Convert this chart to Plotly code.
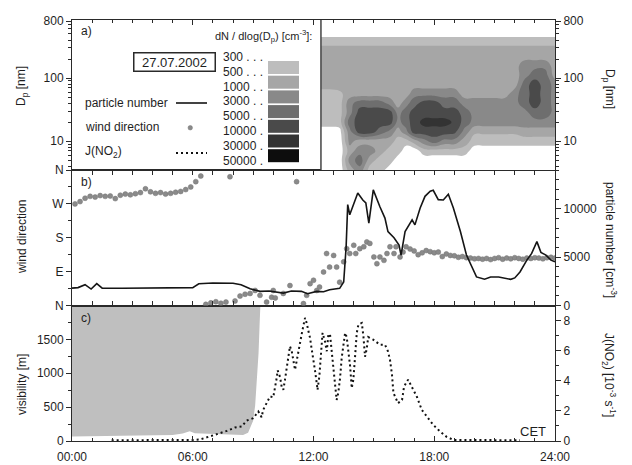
import numpy as np
import plotly.graph_objects as go

# ---------------- data ----------------
# panel a: particle size distribution dN/dlog(Dp) [cm^-3]
dist_time_h = [12.37, 12.8, 13.3, 13.8, 14.3, 14.8, 15.3, 15.8, 16.2, 16.6, 17.0, 17.5,
               18.0, 18.5, 19.0, 19.5, 20.0, 20.5, 21.0, 21.5, 22.0, 22.5, 23.0, 23.5, 24.0]
dist_dp_nm = [3.5, 5, 7, 10, 14, 20, 28, 40, 56, 80, 110, 160, 220, 300, 400, 560, 800]
# one profile (bottom Dp -> top Dp) per time
dist_profiles = [
    [150, 150, 150, 150, 150, 400, 400, 400, 400, 700, 700, 700, 700, 600, 350, 150, 150],
    [150, 150, 150, 150, 150, 400, 400, 400, 400, 700, 700, 700, 700, 600, 350, 150, 150],
    [150, 150, 150, 150, 200, 400, 400, 400, 450, 700, 700, 700, 700, 600, 350, 150, 150],
    [700, 1500, 700, 1500, 2000, 4000, 2000, 2000, 700, 700, 700, 700, 700, 600, 350, 150, 150],
    [2000, 4000, 2000, 700, 7000, 7000, 7000, 4000, 700, 700, 700, 700, 700, 600, 350, 150, 150],
    [400, 700, 2000, 700, 7000, 7000, 7000, 4000, 700, 700, 700, 700, 700, 600, 350, 150, 150],
    [400, 400, 700, 700, 4000, 7000, 7000, 4000, 700, 700, 700, 700, 700, 600, 350, 150, 150],
    [150, 400, 400, 700, 2000, 7000, 7000, 2000, 700, 700, 700, 700, 700, 600, 350, 150, 150],
    [150, 150, 400, 400, 700, 2000, 2000, 700, 700, 700, 700, 700, 700, 600, 350, 150, 150],
    [150, 150, 150, 400, 2000, 4000, 4000, 2000, 700, 700, 700, 700, 700, 600, 350, 150, 150],
    [150, 150, 150, 700, 7000, 7000, 7000, 4000, 2000, 700, 700, 700, 700, 600, 350, 150, 150],
    [150, 150, 400, 2000, 7000, 15000, 7000, 7000, 2000, 700, 700, 700, 700, 600, 350, 150, 150],
    [150, 150, 400, 4000, 7000, 15000, 7000, 7000, 2000, 700, 700, 700, 700, 600, 350, 150, 150],
    [150, 150, 400, 2000, 7000, 15000, 7000, 4000, 2000, 700, 700, 700, 700, 600, 350, 150, 150],
    [150, 150, 400, 2000, 6000, 9000, 7000, 4000, 2000, 700, 700, 700, 700, 600, 350, 150, 150],
    [150, 150, 400, 700, 2000, 4000, 4000, 2000, 700, 700, 700, 700, 700, 600, 350, 150, 150],
    [150, 150, 150, 400, 550, 2000, 2000, 2000, 700, 700, 700, 700, 700, 600, 350, 150, 150],
    [150, 150, 150, 400, 550, 2000, 2000, 2000, 700, 700, 700, 700, 700, 600, 350, 150, 150],
    [150, 150, 150, 400, 550, 2000, 2000, 2000, 700, 700, 700, 700, 700, 600, 350, 150, 150],
    [150, 150, 150, 400, 550, 2000, 2000, 2000, 700, 700, 700, 700, 700, 600, 350, 150, 150],
    [150, 150, 150, 400, 550, 2000, 2000, 2000, 2000, 700, 700, 700, 700, 600, 350, 150, 150],
    [150, 150, 150, 400, 700, 2000, 2000, 4000, 4000, 4000, 2000, 2000, 700, 600, 350, 150, 150],
    [150, 150, 150, 400, 700, 2000, 4000, 7000, 7000, 7000, 4000, 2000, 700, 600, 350, 150, 150],
    [150, 150, 150, 400, 700, 2000, 4000, 4000, 4000, 4000, 4000, 2000, 700, 600, 350, 150, 150],
    [150, 150, 150, 400, 700, 2000, 2000, 2000, 2000, 2000, 700, 700, 700, 600, 350, 150, 150],
]
dist_levels = [300, 500, 1000, 3000, 5000, 10000, 30000, 50000]
level_colors = ["#ffffff", "#bdbdbd", "#a6a6a6", "#898989", "#6e6e6e",
                "#4a4a4a", "#333333", "#0d0d0d", "#000000"]

# panel b: wind direction [deg] and particle number [cm^-3]
wind_time_h = [0.15, 0.40, 0.65, 0.90, 1.15, 1.40, 1.65, 1.90, 2.15, 2.40, 2.65, 2.90, 3.15,
               3.40, 3.65, 3.90, 4.15, 4.40, 4.65, 4.90, 5.15, 5.40, 5.65, 5.90, 6.15, 6.40,
               6.65, 6.90, 7.15, 7.40, 7.65, 7.85, 8.10, 8.35, 8.60, 8.85, 9.10, 9.34, 9.67,
               9.92, 10.0, 10.1, 10.5, 10.83, 11.16, 11.5, 11.66, 11.83, 12.0, 12.16, 12.3,
               12.5, 12.65, 12.8, 13.0, 13.15, 13.3, 13.5, 13.65, 13.8, 14.0, 14.1, 14.3,
               14.5, 14.65, 14.8, 15.0, 15.15, 15.3, 15.5, 15.65, 15.8, 16.0, 16.1, 16.3,
               16.45, 16.6, 16.8, 17.0, 17.2, 17.4, 17.6, 17.8, 18.0, 18.2, 18.4, 18.6,
               18.8, 19.0, 19.2, 19.4, 19.6, 19.8, 20.0, 20.2, 20.4, 20.6, 20.8, 21.0,
               21.2, 21.4, 21.6, 21.8, 22.0, 22.2, 22.4, 22.6, 22.8, 23.0, 23.2, 23.4,
               23.6, 23.8, 24.0]
wind_dir_deg = [270, 276, 285, 290, 288, 292, 290, 291, 284, 293, 296, 294, 297,
                300, 310, 302, 298, 300, 296, 298, 301, 303, 308, 315, 329, 344,
                3, 7, 10, 6, 9, 342, 12, 25, 30, 32, 40, 27, 9,
                22, 40, 20, 32, 53, 329, 5, 27, 58, 67, 40, 49,
                89, 138, 102, 133, 102, 62, 116, 151, 138, 160, 138, 151,
                156, 169, 165, 129, 111, 129, 120, 138, 156, 138, 156, 129,
                142, 156, 150, 145, 135, 140, 146, 143, 140, 142, 130, 137,
                133, 132, 128, 130, 127, 126, 124, 125, 123, 125, 122, 125,
                127, 123, 126, 124, 127, 125, 123, 126, 125, 127, 126, 124,
                127, 128, 126]

pn_time_h = [0.0, 0.3, 0.65, 0.95, 1.23, 1.5, 2.5, 3.5, 4.5, 5.5, 6.0, 6.3, 7.0, 8.0, 8.4,
             8.85, 9.34, 9.8, 10.5, 10.9, 11.4, 11.7, 12.16, 12.5, 12.8, 13.3, 13.5, 13.62,
             13.7, 13.8, 14.05, 14.2, 14.45, 14.6, 14.75, 14.97, 15.3, 15.55, 15.7, 16.0,
             16.25, 16.35, 16.55, 16.7, 16.9, 17.04, 17.3, 17.54, 17.8, 17.95, 18.2, 18.45,
             18.7, 18.95, 19.3, 19.6, 19.86, 20.1, 20.5, 20.8, 21.2, 21.5, 21.8, 22.0,
             22.26, 22.6, 22.84, 23.1, 23.3, 23.55, 23.8, 24.0]
pn_cm3 = [1800, 1850, 2150, 1700, 2260, 1800, 1780, 1800, 1790, 1800, 1850, 2250, 2330, 2300, 2150,
          1735, 1460, 1500, 1285, 1500, 1460, 1215, 1460, 1420, 1630, 1770, 2430, 6000,
          10420, 9380, 10760, 11630, 10900, 10590, 8500, 11950, 10200, 9030, 7640, 7000,
          6250, 5210, 7640, 8160, 8850, 8330, 10070, 11280, 11800, 11900, 10940, 10900,
          11500, 10070, 7640, 5210, 3990, 2950, 2710, 2950, 2950, 2800, 2700, 2850,
          3470, 4690, 5380, 6600, 5490, 5210, 4690, 4510]

# panel c: visibility [m] (fog period) and J(NO2) [1e-3 s^-1]
vis_time_h = [0.0, 1.0, 2.0, 3.0, 4.0, 5.0, 5.5, 5.85, 6.1, 6.5, 7.0, 7.5, 8.0, 8.5, 8.75,
              9.0, 9.1, 9.2, 9.27, 9.32, 9.36]
vis_m = [65, 70, 75, 85, 88, 90, 110, 145, 115, 110, 110, 100, 90, 90, 120,
         300, 520, 900, 1300, 1700, 2000]

jno2_time_h = [1.97, 3.0, 4.0, 5.0, 6.0, 6.36, 6.7, 7.0, 7.35, 7.7, 8.1, 8.43, 8.68, 9.0, 9.26,
               9.42, 9.5, 9.67, 9.84, 10.0, 10.09, 10.17, 10.22, 10.34, 10.42, 10.5, 10.57,
               10.67, 10.75, 10.83, 10.92, 11.0, 11.08, 11.16, 11.25, 11.33, 11.44, 11.58,
               11.66, 11.75, 11.83, 11.9, 12.0, 12.07, 12.16, 12.2, 12.29, 12.35, 12.4, 12.45,
               12.57, 12.66, 12.74, 12.82, 12.98, 13.07, 13.15, 13.23, 13.32, 13.4, 13.48,
               13.57, 13.65, 13.73, 13.82, 13.9, 13.98, 14.06, 14.15, 14.23, 14.4, 14.48,
               14.56, 14.64, 14.72, 14.97, 15.3, 15.55, 15.7, 15.8, 15.9, 15.97, 16.2, 16.4,
               16.5, 16.7, 16.88, 17.13, 17.38, 17.7, 17.95, 18.3, 18.6, 18.95, 20.0, 21.0,
               22.26]
jno2 = [0.05, 0.05, 0.05, 0.05, 0.07, 0.1, 0.25, 0.4, 0.55, 0.67, 0.9, 0.96, 1.36, 1.51, 1.96,
        1.58, 2.07, 2.51, 2.96, 2.9, 3.51, 4.18, 4.69, 4.24, 3.58, 3.4, 3.96,
        4.84, 5.51, 6.29, 5.96, 5.18, 4.73, 5.29, 5.96, 6.62, 7.29, 8.18,
        7.84, 7.29, 6.84, 6.18, 5.4, 4.73, 3.84, 3.4, 4.29, 5.4, 6.51, 7.18,
        6.62, 5.96, 7.07, 7.1, 4.96, 3.96, 2.73, 3.18, 4.18, 5.51, 6.51,
        7.18, 6.9, 6.07, 4.96, 3.51, 4.07, 5.51, 7.18, 7.73, 7.84, 6.96,
        5.6, 6.1, 6.9, 6.73, 6.4, 6.4, 5.96, 5.4, 4.4, 3.2, 2.51, 2.73,
        3.62, 4.07, 3.62, 2.96, 2.07, 1.51, 1.07, 0.62, 0.29, 0.07, 0.05, 0.05,
        0.05]

x_tick_vals = [0, 6, 12, 18, 24]
x_tick_text = ["00:00", "06:00", "12:00", "18:00", "24:00"]
wind_tick_vals = [0, 90, 180, 270, 360]
wind_tick_text = ["N", "E", "S", "W", "N"]
pn_tick_vals = [0, 5000, 10000]
vis_tick_vals = [0, 500, 1000, 1500]
j_tick_vals = [0, 2, 4, 6, 8]
dp_tick_vals = [10, 100, 800]

# ---------------- layout helpers ----------------
FONT = "Liberation Sans, Arial, sans-serif"
TXT = "#1e1e1e"
AX = "#2a2a2a"
W, H = 632, 465
PL, PR, PT, PB = 72, 555, 20, 441


def px(x):
    return (x - PL) / (PR - PL)


def py(y):
    return (PB - y) / (PB - PT)


dom_c = [0, py(305.5)]
dom_b = [py(305.5), py(170)]
dom_a = [py(170), 1]

VIS_TOP = 2000
J_TOP = 9
PN_TOP = 14000
DP_RANGE = [np.log10(3.5), np.log10(830)]

fig = go.Figure()

# contour (panel a)
z = np.array(dist_profiles, float).T
edges = [100] + dist_levels + [100000]
zi = np.interp(np.log10(z), np.log10(edges), np.arange(len(edges)))
cs = [[k / 8, c] for k, c in enumerate(level_colors)]
fig.add_trace(go.Contour(
    x=dist_time_h, y=dist_dp_nm, z=zi, xaxis="x3", yaxis="y5",
    contours=dict(start=1, end=8, size=1, coloring="fill", showlines=False),
    line=dict(width=0, smoothing=1.3), colorscale=cs, showscale=False,
    hoverinfo="skip"))
# keeps the right-hand Dp axis drawn
fig.add_trace(go.Scatter(x=[dist_time_h[-1]], y=[dist_dp_nm[0]], xaxis="x3", yaxis="y6",
                         mode="markers", marker=dict(opacity=0), hoverinfo="skip",
                         showlegend=False))

# visibility: grey area above the visibility curve (fog)
poly_x = list(vis_time_h) + list(vis_time_h[::-1])
poly_y = list(vis_m) + [VIS_TOP] * len(vis_time_h)
fig.add_trace(go.Scatter(x=poly_x, y=poly_y, xaxis="x", yaxis="y", mode="lines",
                         fill="toself", fillcolor="#bfbfbf", line=dict(width=0),
                         hoverinfo="skip", showlegend=False))
# J(NO2)
fig.add_trace(go.Scatter(x=jno2_time_h, y=jno2, xaxis="x", yaxis="y2", mode="lines",
                         line=dict(color="#111111", width=2, dash="2px,3px"),
                         showlegend=False, hoverinfo="skip"))
# wind direction
fig.add_trace(go.Scatter(x=wind_time_h, y=wind_dir_deg, xaxis="x2", yaxis="y3",
                         mode="markers",
                         marker=dict(size=5, color="#8a8a8a",
                                     line=dict(width=0.5, color="#777777")),
                         showlegend=False, hoverinfo="skip"))
# particle number
fig.add_trace(go.Scatter(x=pn_time_h, y=pn_cm3, xaxis="x2", yaxis="y4", mode="lines",
                         line=dict(color="#151515", width=1.6),
                         showlegend=False, hoverinfo="skip"))

tickfont = dict(family=FONT, size=12, color=TXT)
base = dict(showline=True, linecolor=AX, linewidth=1, showgrid=False, zeroline=False,
            tickcolor=AX, tickfont=tickfont, tickwidth=1, automargin=False)
xbase = dict(base, range=[0, 24], tickvals=x_tick_vals, ticklen=5,
             minor=dict(tickvals=list(range(25)), ticks="inside", ticklen=3,
                        tickcolor=AX, showgrid=False))


def minor_y(vals):
    return dict(tickvals=vals, ticks="outside", ticklen=3, tickcolor=AX, showgrid=False)


log_minor = [4, 5, 6, 7, 8, 9, 20, 30, 40, 50, 60, 70, 80, 90, 200, 300, 400, 500, 600, 700]

fig.update_layout(
    width=W, height=H, margin=dict(l=PL, r=W - PR, t=PT, b=H - PB, autoexpand=False),
    paper_bgcolor="white", plot_bgcolor="white", showlegend=False,
    font=dict(family=FONT, size=12, color=TXT),
    xaxis=dict(xbase, anchor="y", domain=[0, 1], ticks="inside", ticktext=x_tick_text,
               showticklabels=True, ticklabelstandoff=5, mirror=True),
    xaxis2=dict(xbase, anchor="y3", domain=[0, 1], matches="x", ticks="inside",
                showticklabels=False, mirror="allticks"),
    xaxis3=dict(xbase, anchor="y5", domain=[0, 1], matches="x", ticks="inside", side="top",
                showticklabels=False, mirror=True),
    yaxis=dict(base, domain=dom_c, anchor="x", range=[0, VIS_TOP],
               tickvals=vis_tick_vals, ticktext=[str(v) for v in vis_tick_vals],
               ticks="outside", ticklen=5, minor=minor_y([250, 750, 1250, 1750])),
    yaxis2=dict(base, overlaying="y", side="right", anchor="x", range=[0, J_TOP],
                tickvals=j_tick_vals, ticktext=[str(v) for v in j_tick_vals],
                ticks="outside", ticklen=5, minor=minor_y([1, 3, 5, 7, 9])),
    yaxis3=dict(base, domain=dom_b, anchor="x2", range=[0, 360],
                tickvals=wind_tick_vals, ticktext=wind_tick_text, ticks="outside", ticklen=5,
                minor=minor_y([45, 135, 225, 315])),
    yaxis4=dict(base, overlaying="y3", side="right", anchor="x2", range=[0, PN_TOP],
                tickvals=pn_tick_vals, ticktext=[str(v) for v in pn_tick_vals],
                ticks="outside", ticklen=5,
                minor=minor_y([v for v in range(1000, 14001, 1000) if v % 5000])),
    yaxis5=dict(base, domain=dom_a, anchor="x3", type="log", range=DP_RANGE,
                tickvals=dp_tick_vals, ticktext=[str(v) for v in dp_tick_vals],
                ticks="outside", ticklen=5, minor=minor_y(log_minor)),
    yaxis6=dict(base, overlaying="y5", side="right", anchor="x3", type="log",
                range=DP_RANGE, tickvals=dp_tick_vals, ticktext=[str(v) for v in dp_tick_vals],
                ticks="outside", ticklen=5, minor=minor_y(log_minor)),
)

ann = []


def text(x, y, s, size=12, xanchor="center", yanchor="middle", angle=0, **kw):
    ann.append(dict(x=px(x), y=py(y), xref="paper", yref="paper", text=s,
                    showarrow=False, xanchor=xanchor, yanchor=yanchor, textangle=angle,
                    font=dict(family=FONT, size=size, color=TXT), **kw))


# panel letters
text(79, 31, "a)", 12, xanchor="left")
text(79, 182, "b)", 12, xanchor="left")
text(79, 318, "c)", 12, xanchor="left")
# axis titles
text(22, 86, "D<sub>p</sub> [nm]", 12, angle=-90)
text(22, 237, "wind direction", 12, angle=-90)
text(22, 385, "visibility [m]", 12, angle=-90)
text(609, 89, "D<sub>p</sub> [nm]", 12, angle=90)
text(611, 240, "particle number [cm<sup>-3</sup>]", 12, angle=90)
text(609, 375, "J(NO<sub>2</sub>) [10<sup>-3</sup> s<sup>-1</sup>]", 12, angle=90)
# CET
text(548, 431, "CET", 13, xanchor="right")
# date box
ann.append(dict(x=px(133), y=py(52), xref="paper", yref="paper", text="27.07.2002",
                showarrow=False, font=dict(family=FONT, size=13, color=TXT),
                bordercolor=AX, borderwidth=1.5, borderpad=2, width=76, height=13))
# legend entries
text(83, 103, "particle number", 12, xanchor="left")
text(83, 127.5, "wind direction", 12, xanchor="left")
text(83, 152, "J(NO<sub>2</sub>)", 12, xanchor="left")
text(213, 36, "dN / dlog(D<sub>p</sub>) [cm<sup>-3</sup>]:", 11, xanchor="left")
dots = {3: " . . .", 4: " . .", 5: " ."}
for k, lev in enumerate(dist_levels):
    s = str(lev)
    text(221, 57 + 14.8 * k, s + dots[len(s)], 12, xanchor="left")

shapes = []
# contour left border line
shapes.append(dict(type="line", xref="x3", yref="y5 domain", x0=dist_time_h[0],
                   x1=dist_time_h[0], y0=0, y1=1, line=dict(color="#444444", width=1.5)))
# legend samples
shapes.append(dict(type="line", xref="paper", yref="paper", x0=px(176), x1=px(207),
                   y0=py(103), y1=py(103), line=dict(color="#151515", width=1.6)))
shapes.append(dict(type="circle", xref="paper", yref="paper", x0=px(188), x1=px(192.5),
                   y0=py(125.5), y1=py(130), fillcolor="#8a8a8a",
                   line=dict(color="#777777", width=0.5)))
shapes.append(dict(type="line", xref="paper", yref="paper", x0=px(176), x1=px(207),
                   y0=py(153), y1=py(153), line=dict(color="#111111", width=2, dash="2px,3px")))
# level swatches
for k in range(len(dist_levels) - 1):
    y0 = 61 + 14.7 * k
    shapes.append(dict(type="rect", xref="paper", yref="paper", x0=px(268), x1=px(299),
                       y0=py(y0), y1=py(y0 + 13), fillcolor=level_colors[k + 1],
                       line=dict(width=0)))

fig.update_layout(annotations=ann, shapes=shapes)
fig.write_html("out.html", config={"displayModeBar": False},
               post_script="document.body.style.margin='0px';"
                           "document.body.style.overflow='hidden';")
